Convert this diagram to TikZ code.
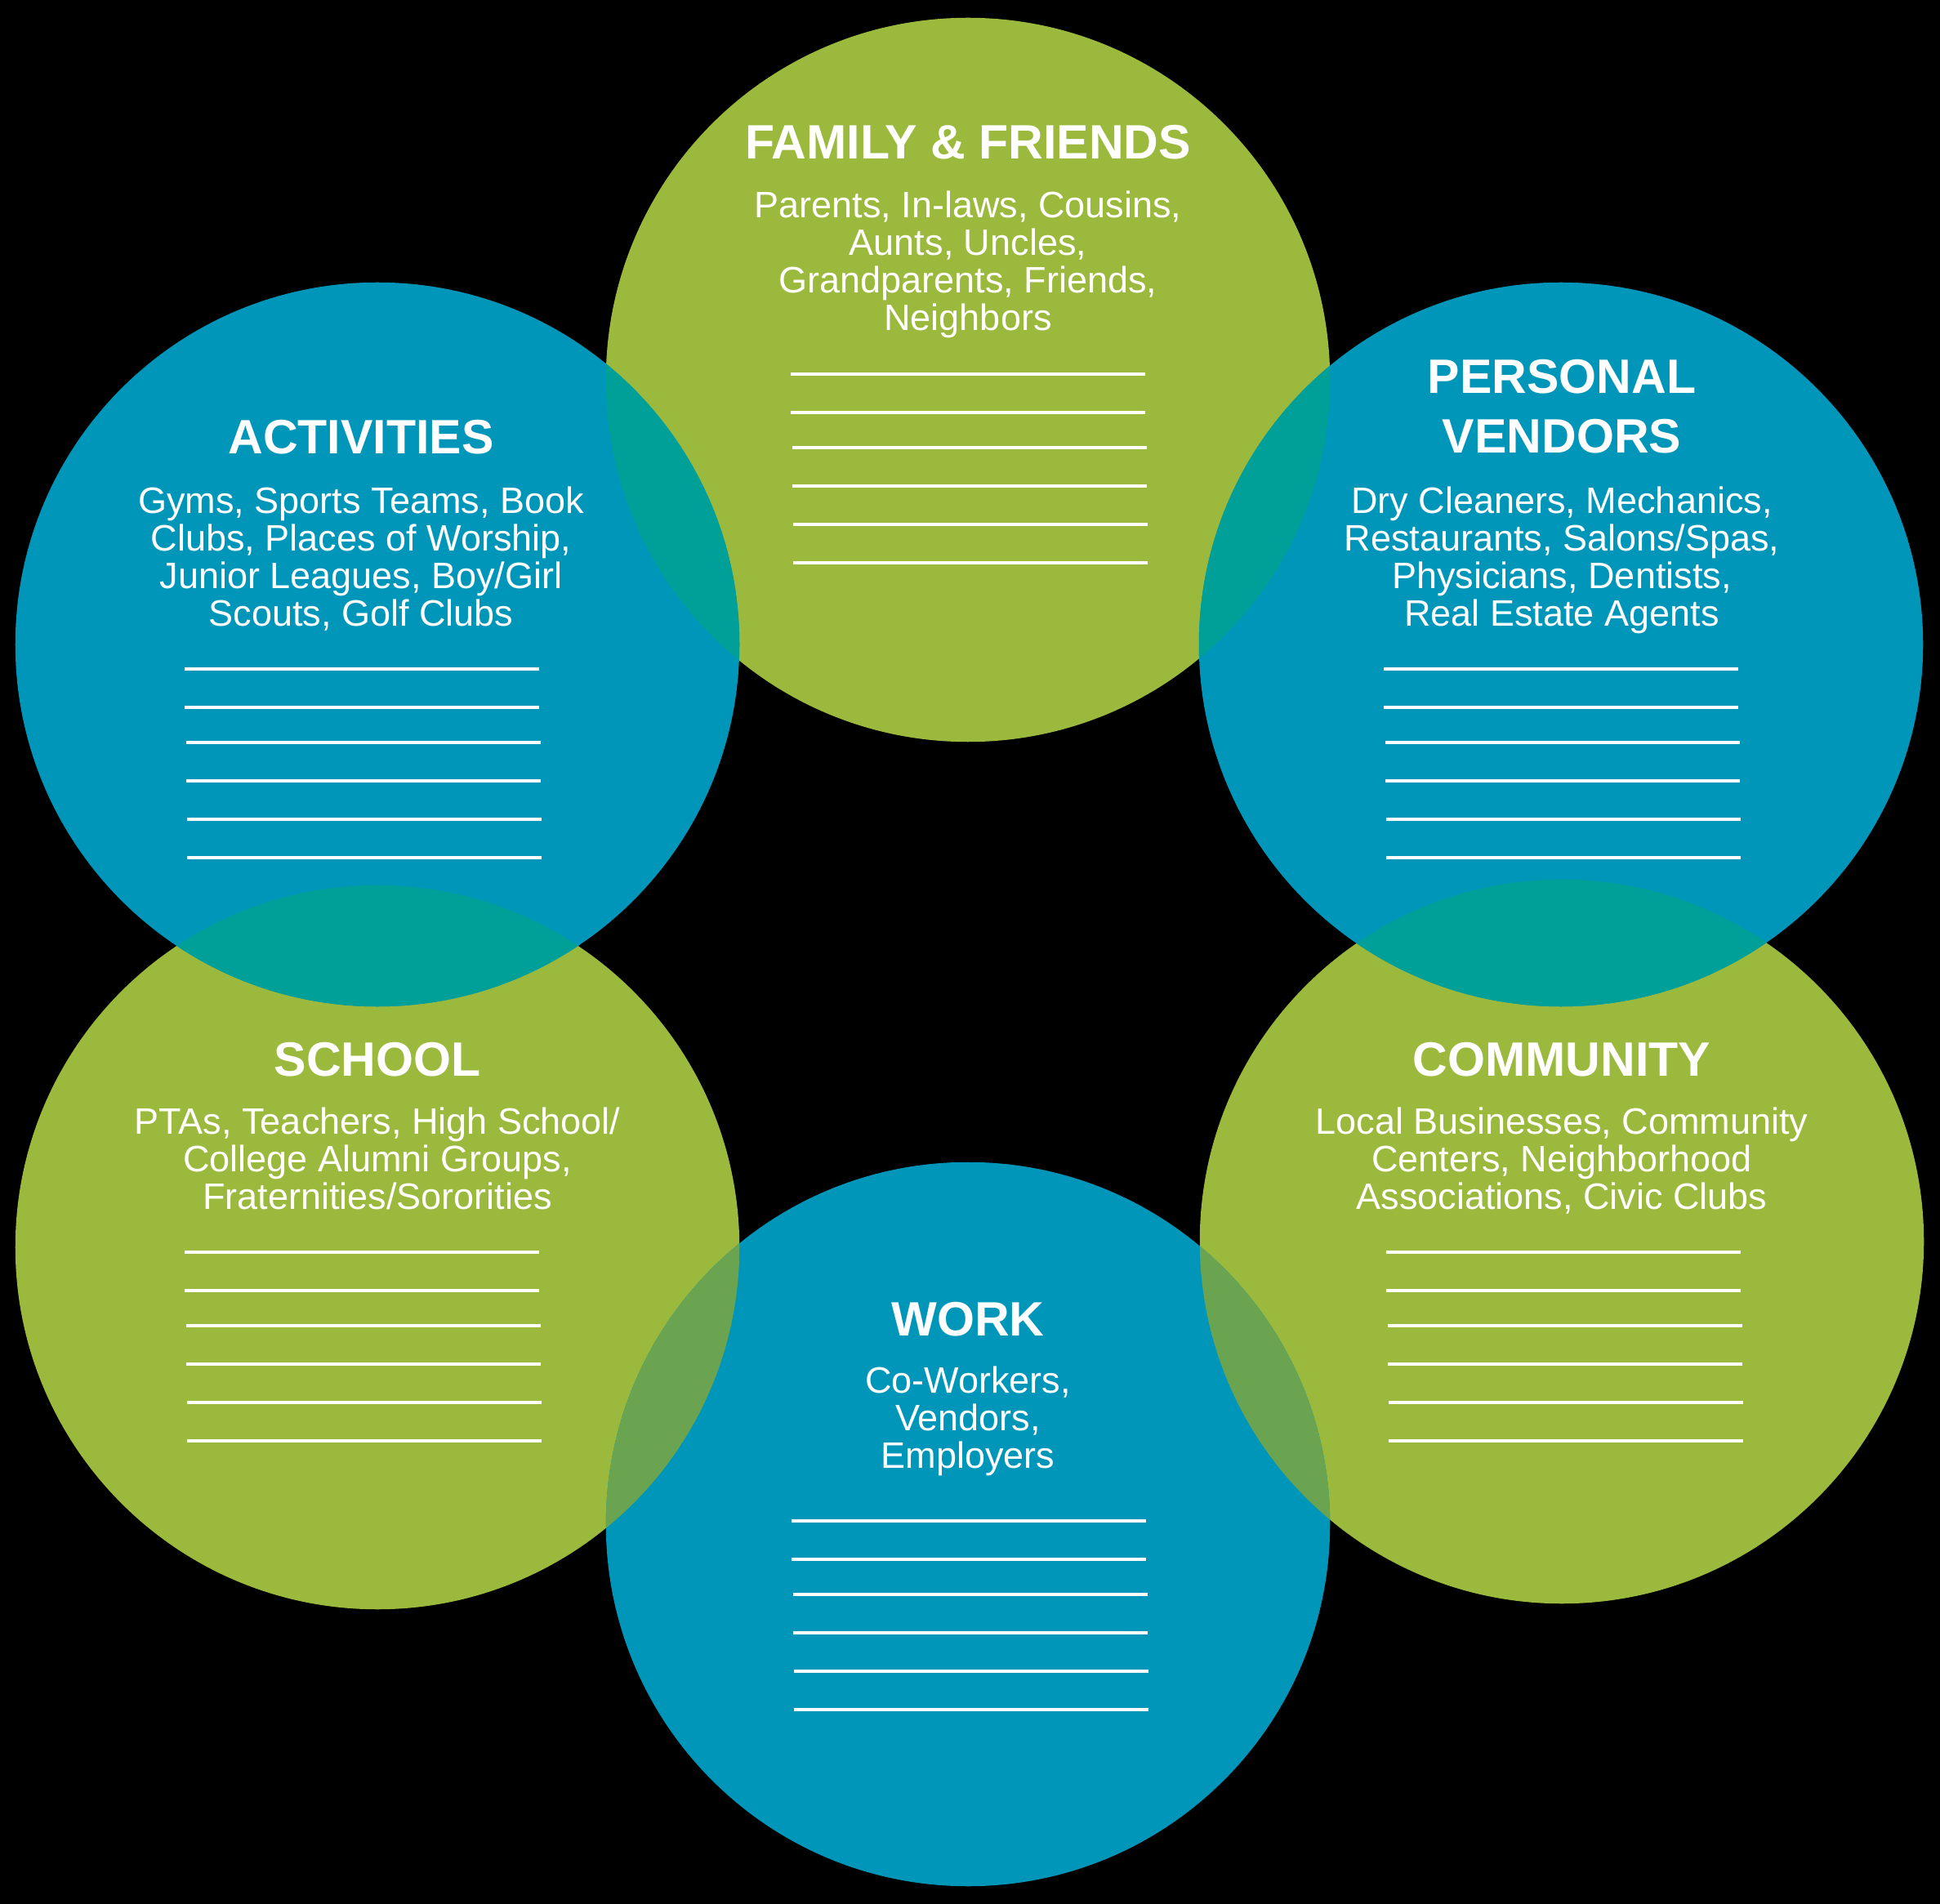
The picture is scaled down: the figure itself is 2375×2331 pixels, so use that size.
\documentclass[tikz,border=0pt]{standalone}
\usepackage{fontspec}
\setmainfont{Liberation Sans}
\usetikzlibrary{positioning}
\definecolor{ngreen}{RGB}{155,185,60}
\definecolor{nblue}{RGB}{0,150,185}
\definecolor{nteal}{RGB}{0,160,152}
\definecolor{nolive}{RGB}{106,164,80}

% six blank lines to write on, #1/#2 = start of the first one
\newcommand{\blanklines}[2]{%
  \foreach \dy/\dx in {0/0,47/0,90/2,137/2,184/3,231/3}
    \draw[blank] (#1-217+\dx,#2+\dy) -- (#1+217+\dx,#2+\dy);}

\begin{document}
\begin{tikzpicture}[x=0.01cm, y=-0.01cm,
  ring/.style={circle, minimum size=8.86cm, inner sep=0pt},
  title/.style={text=white, font=\fontsize{16.8}{20.8}\selectfont\bfseries,
                align=center, inner sep=0pt},
  items/.style={text=white, font=\fontsize{12.8}{13.1}\selectfont,
                align=center, inner sep=0pt, anchor=north},
  blank/.style={white, line width=1pt}
]
\fill[black] (0,0) rectangle (2375,2331);
\useasboundingbox (0,0) rectangle (2375,2331);

\node[ring, fill=ngreen] (fam)  at (1185, 465) {};
\node[ring, fill=ngreen] (sch)  at ( 462,1527) {};
\node[ring, fill=ngreen] (com)  at (1912,1520) {};
\node[ring, fill=nblue]  (act)  at ( 462, 789) {};
\node[ring, fill=nblue]  (pv)   at (1911, 789) {};
\node[ring, fill=nblue]  (work) at (1185,1866) {};

% overlaps
\begin{scope}
  \clip (fam.center) circle[radius=4.43cm];
  \fill[nteal] (act.center) circle[radius=4.43cm];
  \fill[nteal] (pv.center) circle[radius=4.43cm];
\end{scope}
\begin{scope}
  \clip (sch.center) circle[radius=4.43cm];
  \fill[nteal] (act.center) circle[radius=4.43cm];
  \fill[nolive] (work.center) circle[radius=4.43cm];
\end{scope}
\begin{scope}
  \clip (com.center) circle[radius=4.43cm];
  \fill[nteal] (pv.center) circle[radius=4.43cm];
  \fill[nolive] (work.center) circle[radius=4.43cm];
\end{scope}

\node[title] (fam-t) at (1185,174) {FAMILY \& FRIENDS};
\node[items] (fam-i) at (1185,233) {Parents, In-laws, Cousins,\\Aunts, Uncles,\\Grandparents, Friends,\\Neighbors};
\blanklines{1185}{458}

\node[title] (act-t) at (442,535) {ACTIVITIES};
\node[items] (act-i) at (442,595) {Gyms, Sports Teams, Book\\Clubs, Places of Worship,\\Junior Leagues, Boy/Girl\\Scouts, Golf Clubs};
\blanklines{443}{819}

\node[title] (pv-t) at (1912,498) {PERSONAL\\VENDORS};
\node[items] (pv-i) at (1912,595) {Dry Cleaners, Mechanics,\\Restaurants, Salons/Spas,\\Physicians, Dentists,\\Real Estate Agents};
\blanklines{1911}{819}

\node[title] (sch-t) at (462,1297) {SCHOOL};
\node[items] (sch-i) at (462,1355) {PTAs, Teachers, High School/\\College Alumni Groups,\\Fraternities/Sororities};
\blanklines{443}{1533}

\node[title] (com-t) at (1912,1297) {COMMUNITY};
\node[items] (com-i) at (1912,1355) {Local Businesses, Community\\Centers, Neighborhood\\Associations, Civic Clubs};
\blanklines{1914}{1533}

\node[title] (work-t) at (1185,1615) {WORK};
\node[items] (work-i) at (1185,1672) {Co-Workers,\\Vendors,\\Employers};
\blanklines{1186}{1862}
\end{tikzpicture}
\end{document}
